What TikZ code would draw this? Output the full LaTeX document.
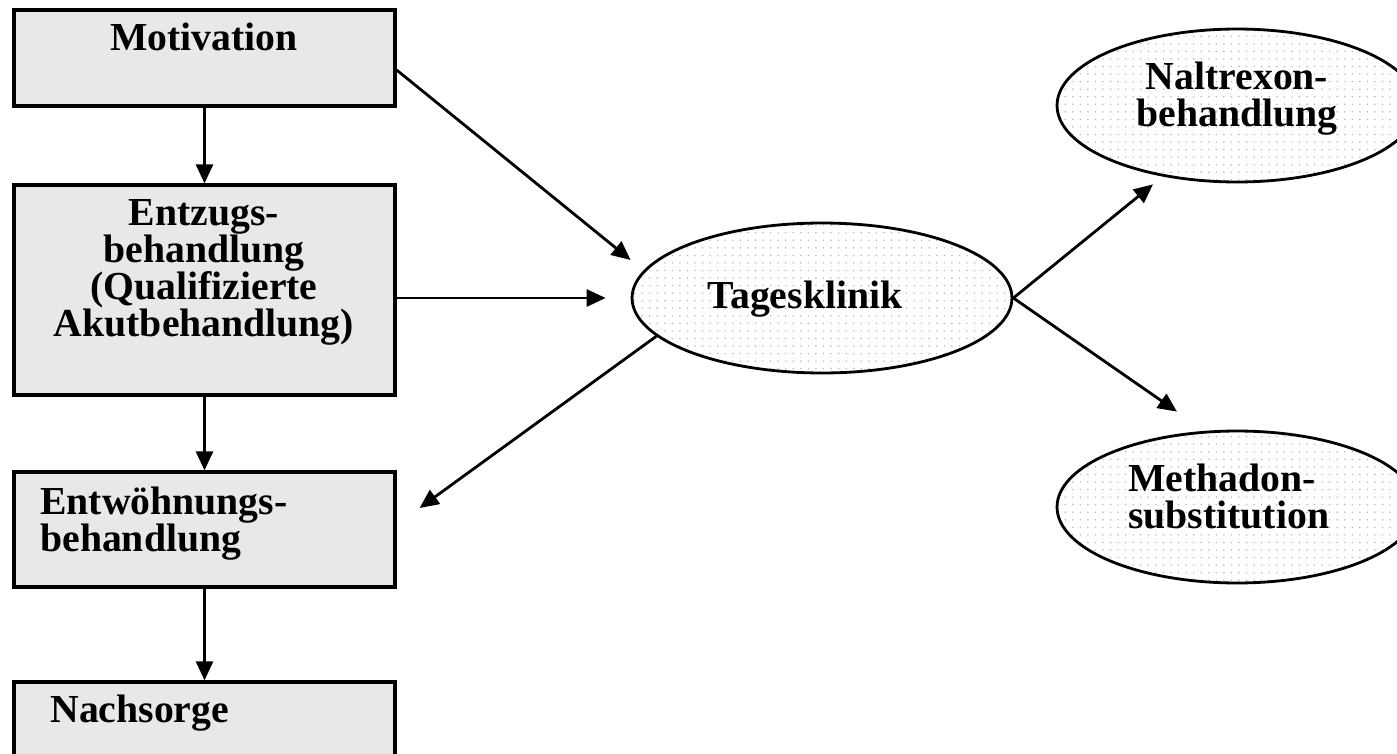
\documentclass[tikz,border=0pt]{standalone}
\usepackage{fontspec}
\setmainfont{Liberation Serif}
\usepackage{xcolor}
\usepackage{tikz}
\usetikzlibrary{arrows.meta}
\usetikzlibrary{positioning}
\usetikzlibrary{calc}
\usetikzlibrary{shapes.geometric}
\usetikzlibrary{patterns.meta}
\definecolor{boxgray}{HTML}{E8E8E8}

\begin{document}
\begin{tikzpicture}[x=0.02cm, y=-0.02cm,
		box/.style={draw, line width=1.9pt, fill=boxgray, minimum width=7.62cm, inner sep=0pt},
		oval/.style={ellipse, draw, line width=1.6pt, pattern={Dots[distance=4.3pt, radius=0.45pt]}, pattern color=gray!60, inner sep=0pt},
		txt/.style={font=\fontsize{22.6}{21}\selectfont\bfseries, inner sep=0pt},
		arr/.style={-{Triangle[length=0.38cm, width=0.34cm]}, line width=1.6pt}]
			\useasboundingbox (0,0) rectangle (1397,754);
			\clip (0,0) rectangle (1397,754);
			% left column
			\node[box, minimum height=1.92cm](mot) at (204.5,58){};
			\node[box, minimum height=4.2cm](ent) at (204.5,290){};
			\node[box, minimum height=2.3cm](entw) at (204.5,529.5){};
			\node[box, minimum height=2.4cm](nach) at (204.5,742){};
			\node[txt, anchor=base](motTxt) at (204,50){Motivation};
			\node[txt, align=center, anchor=north](entTxt) at (204,199){Entzugs-\\behandlung\\(Qualifizierte\\Akutbehandlung)};
			\node[txt, align=left, anchor=north west](entwTxt) at (40,487){Entwöhnungs-\\behandlung};
			\node[txt, anchor=base west](nachTxt) at (50,722){Nachsorge};
			% ovals
			\node[oval, minimum width=7.6cm, minimum height=3cm](tk) at (822,298){};
			\node[oval, minimum width=7.2cm, minimum height=3.06cm](nal) at (1237,105.5){};
			\node[oval, minimum width=7.2cm, minimum height=3.04cm](met) at (1237,507){};
			\node[txt, anchor=base west](tkTxt) at (707,308){Tagesklinik};
			\node[txt, align=center, anchor=north](nalTxt) at (1237,62){Naltrexon-\\behandlung};
			\node[txt, align=left, anchor=north west](metTxt) at (1128,464){Methadon-\\substitution};
			% arrow ends
			\coordinate (m2t) at ($(tk.west)+(0,-38)$);
			\coordinate (e2t) at ($(tk.west)+(-25,0)$);
			\coordinate (t2e) at ($(entw.east)+(23,-21.5)$);
			\coordinate (t2n) at ($(nal.south)+(-84,1)$);
			\coordinate (t2m) at ($(met.north)+(-60,-18)$);
			% arrows
			\draw[arr] (mot) -- (ent);
			\draw[arr] (ent) -- (entw);
			\draw[arr] (entw) -- (nach);
			\draw[arr] ($(mot.east)+(0,12)$) -- (m2t);
			\draw[arr] ($(ent.east)+(0,8)$) -- (e2t);
			\draw[arr] (tk.193.5) -- (t2e);
			\draw[arr] (tk.east) -- (t2n);
			\draw[arr] (tk.east) -- (t2m);
		\end{tikzpicture}
\end{document}
